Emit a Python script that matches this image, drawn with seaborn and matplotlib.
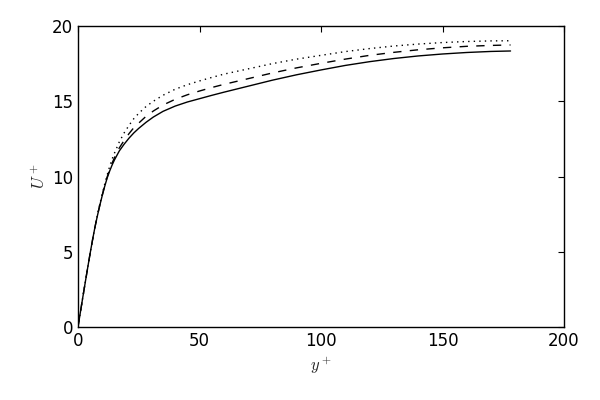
import numpy as np
import pandas as pd
import matplotlib
matplotlib.use('Agg')
import matplotlib.pyplot as plt
import seaborn as sns

# perfis de velocidade
yplus = [0, 1, 2, 3, 4, 5, 6, 7, 8, 9, 10, 11, 12, 13, 14, 15, 17, 19, 21, 23, 25, 28, 31, 35,
         40, 45, 50, 55, 60, 70, 80, 90, 100, 110, 120, 130, 140, 150, 160, 170, 178]
u_solid = [0, 1.0, 2.0, 2.98, 3.95, 4.9, 5.8, 6.65, 7.4, 8.1, 8.75, 9.35, 9.9, 10.35, 10.75, 11.1,
           11.7, 12.15, 12.55, 12.9, 13.2, 13.6, 13.95, 14.33, 14.68, 14.95, 15.17, 15.39, 15.6,
           16.0, 16.4, 16.76, 17.08, 17.38, 17.63, 17.84, 18.01, 18.14, 18.24, 18.31, 18.34]
u_dashed = [0, 1.0, 2.0, 2.98, 3.95, 4.9, 5.8, 6.65, 7.42, 8.12, 8.78, 9.4, 9.97, 10.45, 10.88, 11.25,
            11.9, 12.4, 12.85, 13.25, 13.55, 14.0, 14.35, 14.75, 15.13, 15.43, 15.68, 15.91, 16.12,
            16.5, 16.88, 17.22, 17.52, 17.8, 18.05, 18.25, 18.42, 18.55, 18.65, 18.71, 18.74]
u_dotted = [0, 1.0, 2.0, 2.98, 3.95, 4.9, 5.82, 6.68, 7.46, 8.18, 8.85, 9.5, 10.1, 10.65, 11.15, 11.55,
            12.3, 12.9, 13.4, 13.85, 14.2, 14.65, 15.0, 15.4, 15.8, 16.1, 16.35, 16.58, 16.8,
            17.15, 17.5, 17.8, 18.05, 18.3, 18.5, 18.67, 18.8, 18.9, 18.97, 19.01, 19.02]

sns.set_style('white')
plt.rcParams.update({
    'font.family': ['DejaVu Sans'],
    'mathtext.fontset': 'cm',
    'xtick.direction': 'in',
    'ytick.direction': 'in',
    'xtick.top': True,
    'ytick.right': True,
    'xtick.major.size': 4,
    'ytick.major.size': 4,
    'axes.edgecolor': 'black',
    'axes.linewidth': 1.0,
})

df = pd.DataFrame({'y': yplus, 'solid': u_solid, 'dashed': u_dashed, 'dotted': u_dotted})

fig = plt.figure(figsize=(6, 4), dpi=100)
ax = fig.add_axes([0.13, 0.1825, 0.81, 0.7525])

sns.lineplot(data=df, x='y', y='solid', ax=ax, color='black', lw=1, linestyle='-')
sns.lineplot(data=df, x='y', y='dashed', ax=ax, color='black', lw=1, linestyle=(0, (6, 6)))
sns.lineplot(data=df, x='y', y='dotted', ax=ax, color='black', lw=1, linestyle=(0, (1, 3)))

ax.set_xlim(0, 200)
ax.set_ylim(0, 20)
ax.set_xticks([0, 50, 100, 150, 200])
ax.set_yticks([0, 5, 10, 15, 20])
ax.tick_params(labelsize=12, colors='black', width=0.8)
ax.set_xlabel('$y^+$', fontsize=12)
ax.set_ylabel('$U^+$', fontsize=12, labelpad=2)

plt.savefig('out.png', dpi=100)
plt.close()
